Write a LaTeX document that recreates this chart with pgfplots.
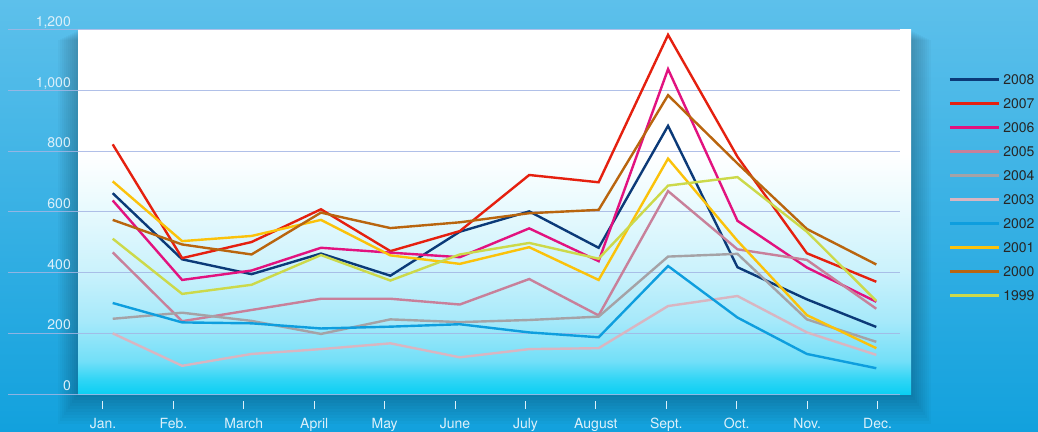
\documentclass[border=0pt]{standalone}
\usepackage{pgfplots}
\pgfplotsset{compat=1.18}
\usepackage{fontspec}
\setmainfont{TeX Gyre Heros}
\definecolor{bgtop}{HTML}{5DC0EB}
\definecolor{bgbot}{HTML}{12A1DD}
\definecolor{gridc}{HTML}{A3B6E4}
\definecolor{lab}{HTML}{DDF0FA}
\definecolor{c2008}{HTML}{0B3A78}
\definecolor{c2007}{HTML}{E5200F}
\definecolor{c2006}{HTML}{E2127F}
\definecolor{c2005}{HTML}{C8809A}
\definecolor{c2004}{HTML}{A5A2A6}
\definecolor{c2003}{HTML}{D9B5C1}
\definecolor{c2002}{HTML}{0E9EDE}
\definecolor{c2001}{HTML}{FBC20A}
\definecolor{c2000}{HTML}{B9650E}
\definecolor{c1999}{HTML}{CCD94A}
\definecolor{p0}{HTML}{0BCFF3}
\definecolor{p1}{HTML}{30D5F5}
\definecolor{p2}{HTML}{72DFF8}
\definecolor{p3}{HTML}{A6E9FA}
\definecolor{p4}{HTML}{CBF2FC}
\definecolor{p5}{HTML}{EDFBFE}
\pgfdeclareverticalshading{plotbg}{100bp}{color(0bp)=(p0); color(25bp)=(p0); color(27bp)=(p1); color(29.5bp)=(p2); color(35bp)=(p3); color(42bp)=(p4); color(52bp)=(p5); color(58bp)=(white); color(100bp)=(white)}
\newcommand\f{\fontsize{14}{16.8}\selectfont}
\begin{document}
\begin{tikzpicture}
\shade[top color=bgtop, bottom color=bgbot] (0pt,0pt) rectangle (1038pt,431pt);
\foreach \k in {1,...,10}{\fill[black,opacity=0.025] ({(78-2*\k)*1pt},{(37-3*\k)*1pt}) rectangle ({(911+2*\k)*1pt},{(401-\k)*1pt});}
\shade[shading=plotbg] (78pt,37pt) rectangle (911pt,401pt);
\begin{axis}[
  at={(78pt,37pt)}, anchor=south west, scale only axis,
  width=833pt, height=364pt,
  xmin=-0.5, xmax=11.5, ymin=0, ymax=1200,
  clip=false,
  axis line style={draw=none},
  ytick style={draw=none},
  xtick pos=bottom, tick align=outside,
  major tick length=8.5pt,
  xtick style={draw=lab, line width=1pt, yshift=-6.5pt},
  ytick={0,200,400,600,800,1000,1200},
  yticklabels={0,200,400,600,800,{1,000},{1,200}},
  yticklabel style={anchor=base east, inner sep=0pt, xshift=1.5pt, yshift=3.5pt, font=\f, text=lab},
  xtick={-0.140,0.874,1.889,2.903,3.918,4.932,5.946,6.961,7.975,8.990,10.004,11.018},
  xticklabels={Jan.,Feb.,March,April,May,June,July,August,Sept.,Oct.,Nov.,Dec.},
  xticklabel style={anchor=base, inner sep=0pt, yshift=-26pt, font=\f, text=lab},
  every axis plot/.append style={line width=2.4pt, line join=miter, no markers},
  legend image code/.code={\draw[#1, line width=3pt] (0pt,0pt) -- (49pt,0pt);},
  legend style={at={(1.041,0.8846)}, anchor=north west, draw=none, fill=none, font=\f, text=black!85, row sep=14pt, nodes={inner sep=0pt, text height=10pt, text depth=0pt}, /tikz/every odd column/.append style={column sep=3pt}},
  legend cell align=left,
]
\pgfplotsinvokeforeach{0,200,400,600,800,1000,1200}{\draw[gridc, opacity=0.85, line width=1pt] (axis cs:-1.508,#1) -- (axis cs:11.336,#1);}
\addplot[c2008] coordinates {(0,662) (1,444) (2,395) (3,463) (4,390) (5,535) (6,602) (7,482) (8,884) (9,418) (10,312) (11,221)};
\addlegendentry{2008}
\addplot[c2007] coordinates {(0,823) (1,448) (2,501) (3,609) (4,471) (5,537) (6,722) (7,698) (8,1184) (9,782) (10,464) (11,370)};
\addlegendentry{2007}
\addplot[c2006] coordinates {(0,638) (1,376) (2,407) (3,482) (4,466) (5,451) (6,546) (7,438) (8,1071) (9,571) (10,417) (11,304)};
\addlegendentry{2006}
\addplot[c2005] coordinates {(0,467) (1,240) (2,277) (3,314) (4,314) (5,295) (6,379) (7,259) (8,669) (9,477) (10,442) (11,281)};
\addlegendentry{2005}
\addplot[c2004] coordinates {(0,248) (1,268) (2,241) (3,198) (4,246) (5,237) (6,244) (7,255) (8,453) (9,462) (10,246) (11,172)};
\addlegendentry{2004}
\addplot[c2003] coordinates {(0,200) (1,93) (2,132) (3,148) (4,167) (5,121) (6,148) (7,151) (8,290) (9,323) (10,203) (11,129)};
\addlegendentry{2003}
\addplot[c2002] coordinates {(0,300) (1,236) (2,233) (3,216) (4,222) (5,230) (6,203) (7,187) (8,422) (9,252) (10,132) (11,85)};
\addlegendentry{2002}
\addplot[c2001] coordinates {(0,701) (1,504) (2,521) (3,574) (4,457) (5,429) (6,484) (7,376) (8,776) (9,505) (10,260) (11,151)};
\addlegendentry{2001}
\addplot[c2000] coordinates {(0,574) (1,493) (2,460) (3,598) (4,547) (5,566) (6,596) (7,607) (8,985) (9,760) (10,544) (11,427)};
\addlegendentry{2000}
\addplot[c1999] coordinates {(0,512) (1,330) (2,360) (3,458) (4,374) (5,460) (6,498) (7,446) (8,687) (9,715) (10,535) (11,307)};
\addlegendentry{1999}
\end{axis}
\end{tikzpicture}
\end{document}
